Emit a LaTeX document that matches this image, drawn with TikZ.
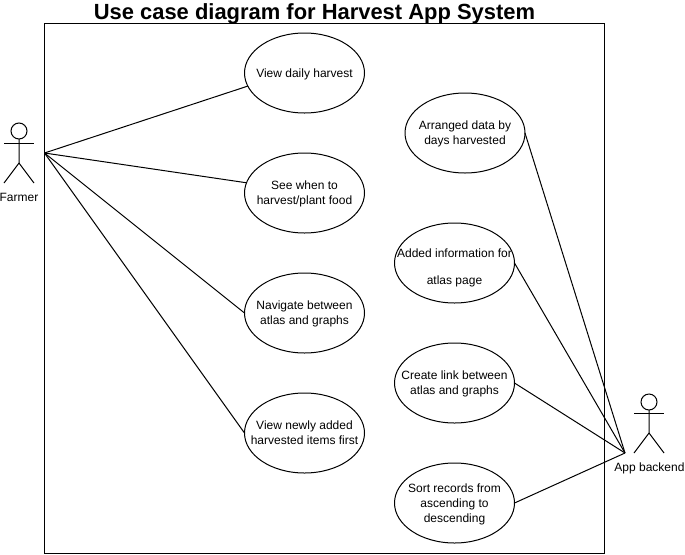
\documentclass[tikz,border=0pt]{standalone}
\usepackage{fontspec}
\setmainfont{Liberation Sans}
\usetikzlibrary{shapes.geometric,positioning}

\tikzset{
	usecase/.style={ellipse, draw, minimum width=90pt, minimum height=60pt, inner xsep=-20pt, inner ysep=0pt, outer sep=0pt, text depth=0pt, align=center, font=\fontsize{9}{11.25}\selectfont},
	actorhead/.style={circle, draw, minimum size=12pt, inner sep=0pt, outer sep=0pt},
	actorlabel/.style={inner sep=0pt, text depth=0pt, font=\fontsize{9}{11.25}\selectfont},
	link/.style={line width=0.75pt}
}

\begin{document}
\begin{tikzpicture}[x=0.75pt, y=-0.75pt, line width=0.75pt]
	\useasboundingbox (0,0) rectangle (685,554);
	
	\node[inner sep=0pt, font=\fontsize{16.45}{20}\selectfont\bfseries] (title) at (314.5,13.5) {Use case diagram for Harvest App System};
	\node[draw, minimum width=420pt, minimum height=397.5pt, outer sep=0pt] (system) at (324.5,288.5) {};
	
	\node[usecase] (view) at (304.5,73) {View daily harvest};
	\node[usecase, below=30pt of view] (see) {See when to\\harvest/plant food};
	\node[usecase, below=30pt of see] (navigate) {Navigate between\\atlas and graphs};
	\node[usecase, below=30pt of navigate] (newly) {View newly added\\harvested items first};
	
	\node[usecase] (arranged) at (465,133) {Arranged data by\\days harvested};
	\node[usecase] (added) at (454.5,263) {\rule{0pt}{12.5pt}Added information for\\[9pt]atlas page};
	\node[usecase, below=30pt of added] (create) {Create link between\\atlas and graphs};
	\node[usecase, below=30pt of create] (sort) {Sort records from\\ascending to\\descending};
	
	% Farmer
	\node[actorhead] (farmerhead) at (19,131) {};
	\coordinate (farmerhip) at (19,163);
	\coordinate (farmerend) at (44.5,153);
	\draw (farmerhead) -- (farmerhip) -- (4,183);
	\draw (farmerhip) -- (34,183);
	\draw (4,143) -- (34,143);
	\node[actorlabel] (farmer) at (19,197) {Farmer};
	
	% App backend
	\node[actorhead] (backendhead) at (649,402) {};
	\coordinate (backendhip) at (649,433);
	\coordinate (backendend) at (625,453);
	\draw (backendhead) -- (backendhip) -- (634,453);
	\draw (backendhip) -- (664,453);
	\draw (634,413) -- (664,413);
	\node[actorlabel] (backend) at (649.5,467) {App backend};
	
	\draw[link] (farmerend) -- (view.193);
	\draw[link] (farmerend) -- (see.170);
	\draw[link] (farmerend) -- (navigate.west);
	\draw[link] (farmerend) -- (newly.west);
	
	\draw[link] (arranged.east) -- (backendend);
	\draw[link] (added.east) -- (backendend);
	\draw[link] (create.east) -- (backendend);
	\draw[link] (sort.east) -- (backendend);
\end{tikzpicture}
\end{document}
